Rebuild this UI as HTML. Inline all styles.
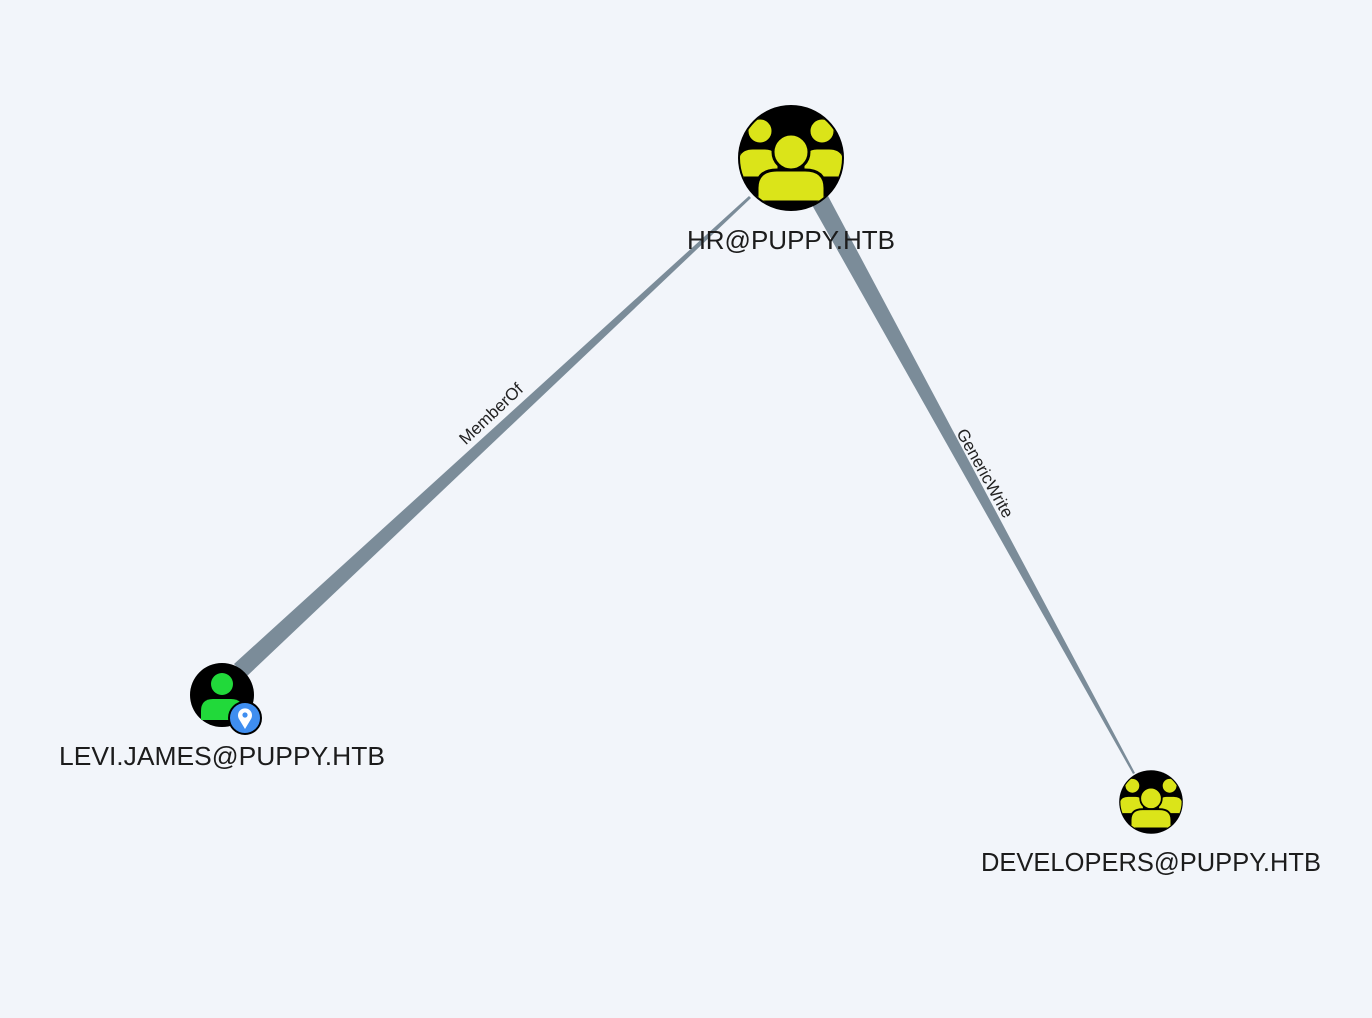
<!DOCTYPE html>
<html><head><style>
html,body{margin:0;padding:0;background:#f2f5fa;}
svg{display:block}
text{font-family:"Liberation Sans",sans-serif;}
</style></head><body>
<svg width="1372" height="1018" viewBox="0 0 1372 1018">
<defs>
<clipPath id="cc"><circle r="51"/></clipPath>
<g id="grp">
<circle r="53" fill="#000"/>
<g fill="#dbe419" stroke="#000" stroke-width="3" clip-path="url(#cc)">
<circle cx="-31" cy="-27" r="13"/>
<circle cx="31" cy="-27" r="13"/>
<path d="M-54 20 L-54 6 Q-54 -10 -38 -10 L-26 -10 Q-12 -10 -12 6 L-12 20 Z"/>
<path d="M54 20 L54 6 Q54 -10 38 -10 L26 -10 Q12 -10 12 6 L12 20 Z"/>
<circle cx="0" cy="-6" r="18"/>
<path d="M-34 44 L-34 30 Q-34 12 -14 12 L14 12 Q34 12 34 30 L34 44 Z"/>
</g>
</g>
</defs>
<polygon points="234,664 246,677 751,198 749,196" fill="#7b8c99"/>
<polygon points="812,205 828,196 1135,773 1133,774" fill="#7b8c99"/>
<text x="0" y="0" font-size="17" fill="#222" text-anchor="middle" transform="translate(495,418) rotate(-43.3)">MemberOf</text>
<text x="0" y="0" font-size="17" fill="#222" text-anchor="middle" transform="translate(980,476) rotate(60.9)">GenericWrite</text>
<use href="#grp" transform="translate(791,158)"/>
<text x="791" y="249" font-size="26" fill="#1c1c1c" text-anchor="middle" textLength="208" lengthAdjust="spacingAndGlyphs">HR@PUPPY.HTB</text>
<use href="#grp" transform="translate(1151,802) scale(0.6)"/>
<text x="1151" y="871" font-size="26" fill="#1c1c1c" text-anchor="middle" textLength="340" lengthAdjust="spacingAndGlyphs">DEVELOPERS@PUPPY.HTB</text>
<circle cx="222" cy="695" r="32" fill="#000"/>
<circle cx="222" cy="684" r="11" fill="#21d93a"/>
<path d="M201 720 L201 711 Q201 699 213 699 L231 699 Q243 699 243 711 L243 720 Z" fill="#21d93a"/>
<circle cx="245" cy="718" r="16" fill="#3f8ef0" stroke="#000" stroke-width="2"/>
<path d="M245 729 L239 719 A7 7 0 1 1 251 719 Z" fill="#fff"/>
<circle cx="245" cy="715" r="2.6" fill="#3f8ef0"/>
<text x="222" y="765" font-size="26" fill="#1c1c1c" text-anchor="middle" textLength="326" lengthAdjust="spacingAndGlyphs">LEVI.JAMES@PUPPY.HTB</text>
</svg>
</body></html>
